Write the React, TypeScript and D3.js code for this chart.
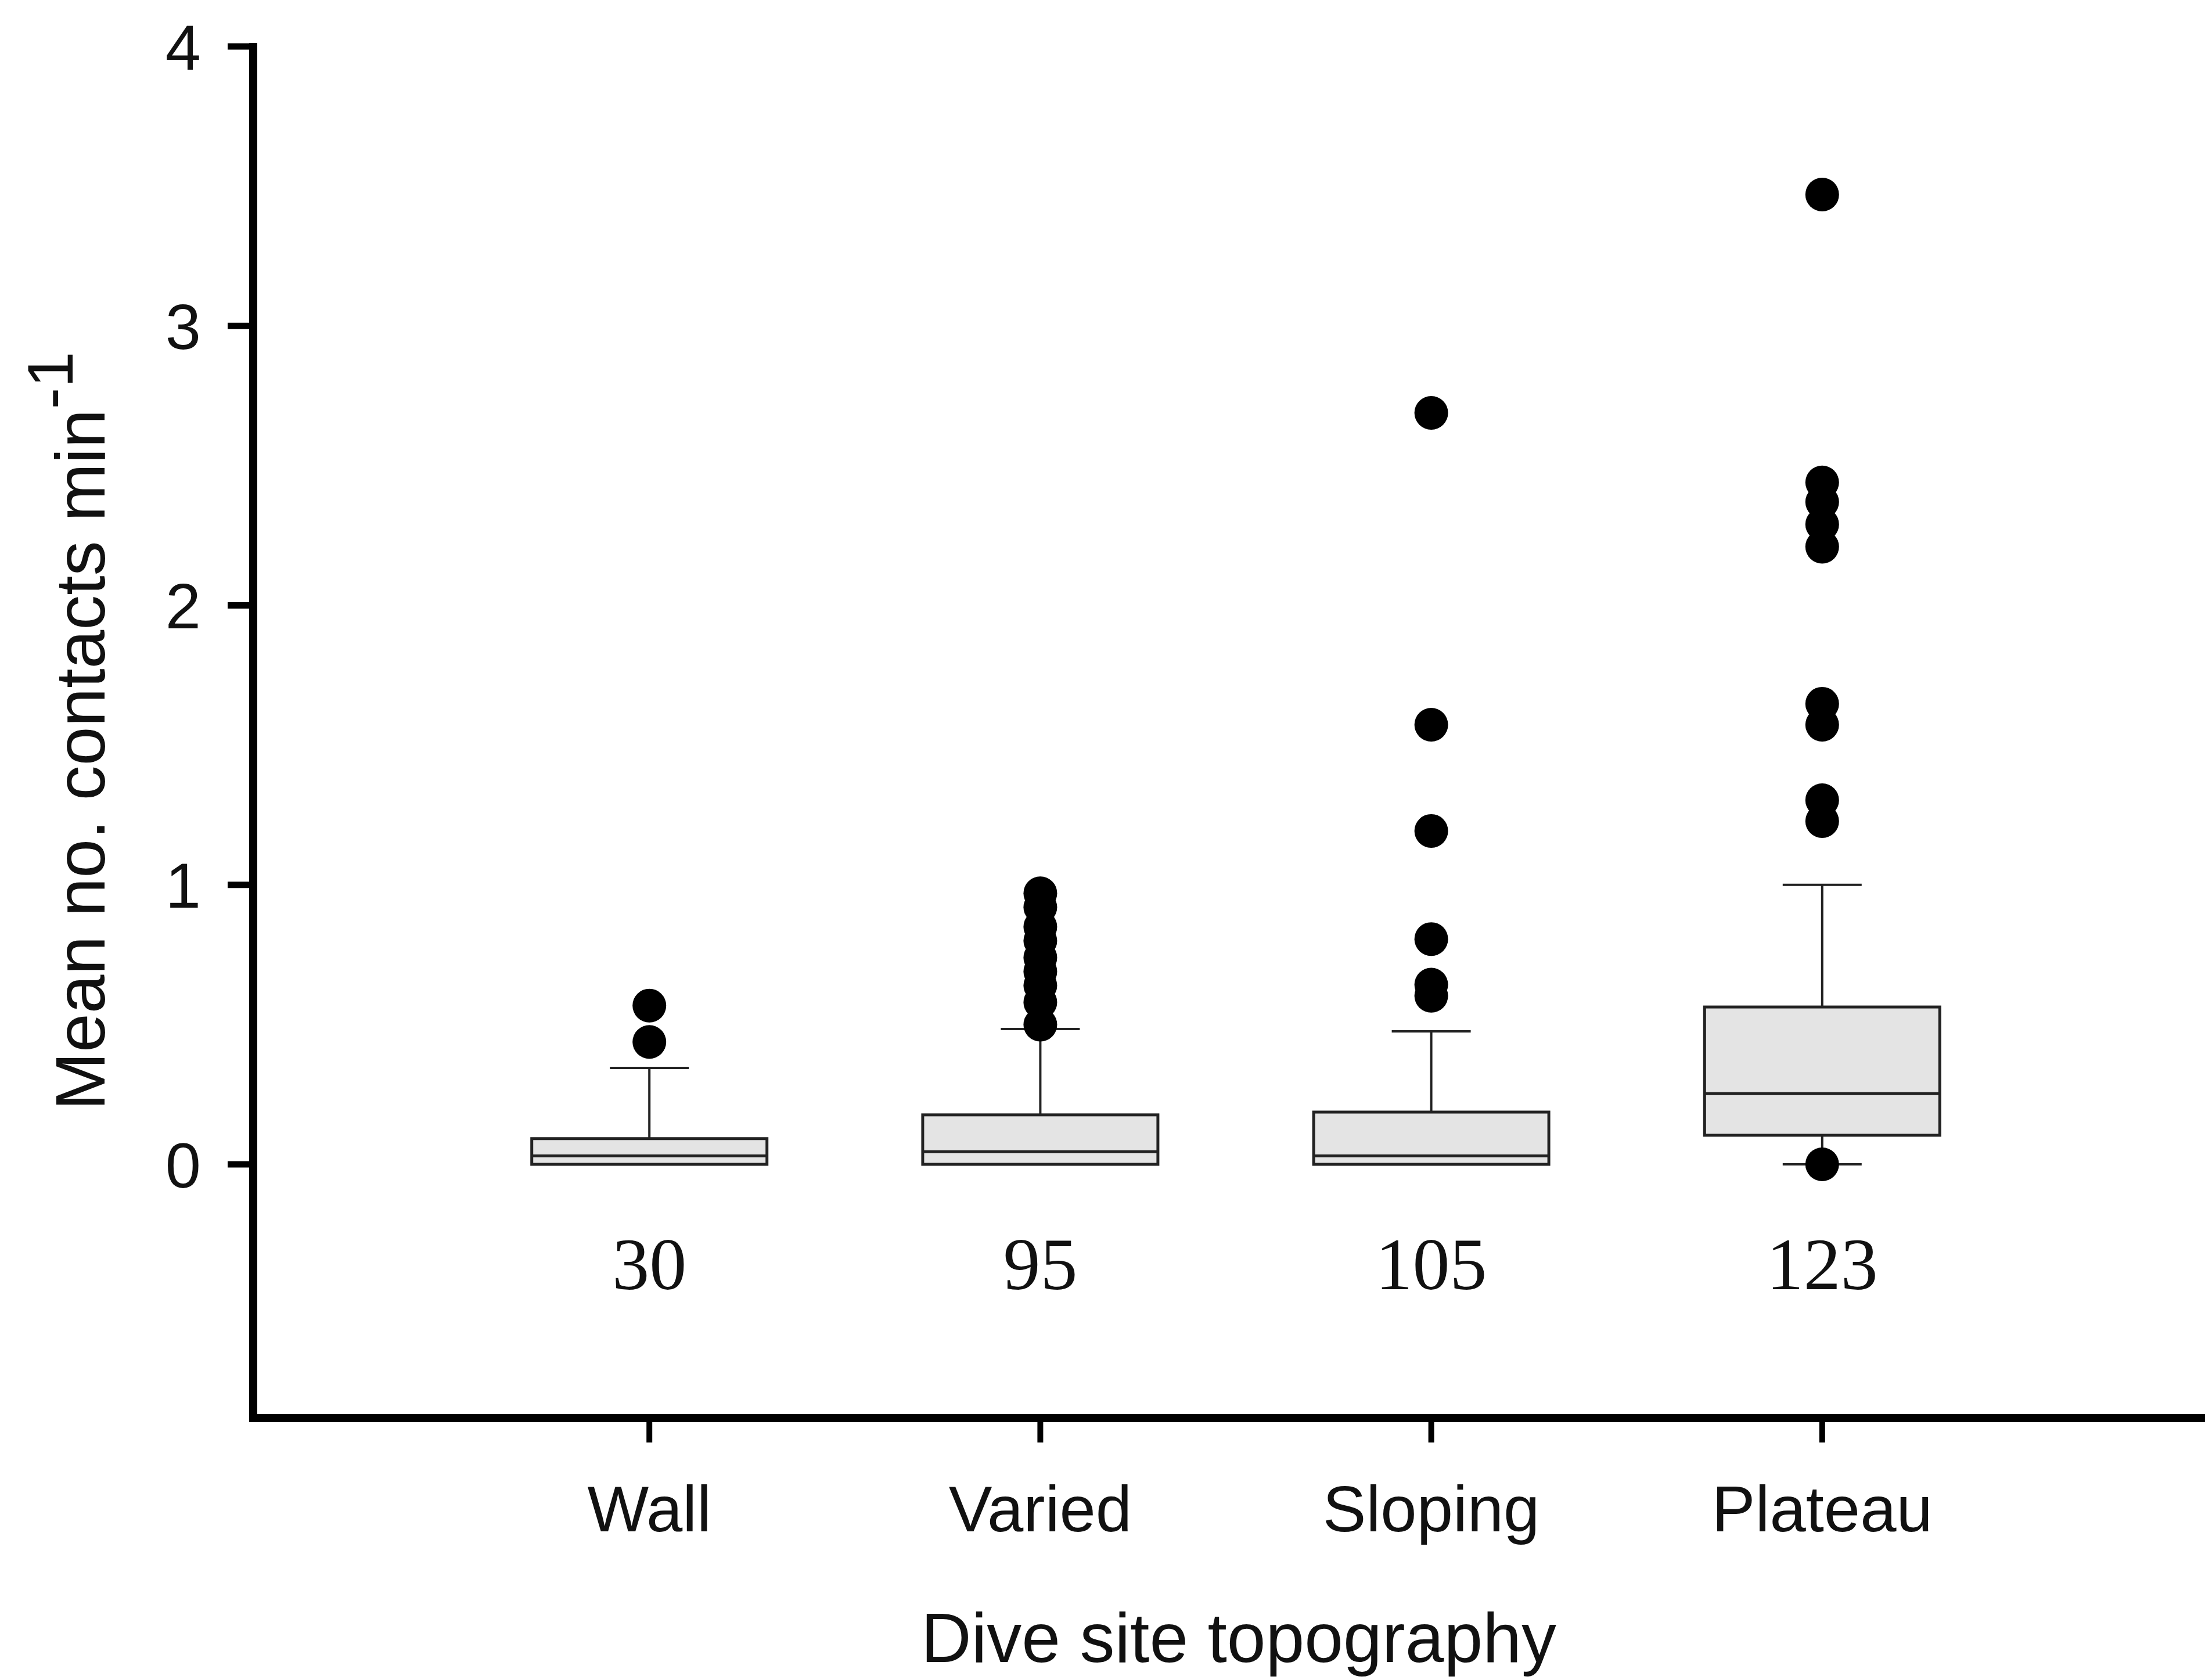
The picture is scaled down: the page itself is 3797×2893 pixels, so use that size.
import React from "react";
import * as d3 from "d3";

const categories = ["Wall", "Varied", "Sloping", "Plateau"];
const sampleSizes = ["30", "95", "105", "123"];
const q1 = [0, 0, 0, 0.104];
const medians = [0.03, 0.045, 0.03, 0.253];
const q3 = [0.092, 0.177, 0.187, 0.563];
const whiskerLow = [0, 0, 0, 0];
const whiskerHigh = [0.345, 0.484, 0.476, 1.0];
const outliersWall = [0.568, 0.438];
const outliersVaried = [0.97, 0.92, 0.85, 0.8, 0.74, 0.69, 0.64, 0.58, 0.5];
const outliersSloping = [2.689, 1.573, 1.193, 0.806, 0.643, 0.603];
const outliersPlateau = [3.47, 2.44, 2.37, 2.29, 2.21, 1.648, 1.573, 1.303, 1.228, 0];
const outliers = [outliersWall, outliersVaried, outliersSloping, outliersPlateau];
const yTicks = [0, 1, 2, 3, 4];

const W = 3797;
const H = 2893;
const axisX = 436;
const axisY = 2442;

export default function App() {
  const x = d3.scalePoint<string>().domain(categories).range([445, 3811]).padding(1);
  const y = d3.scaleLinear().domain([-0.908, 4]).range([axisY, 80]);
  const boxW = 405;
  const capW = 136;
  const sans = "'Liberation Sans', Arial, Helvetica, sans-serif";
  const serif = "'Liberation Serif', 'Times New Roman', serif";

  return (
    <svg
      width={W}
      height={H}
      viewBox={`0 0 ${W} ${H}`}
      style={{ position: "absolute", left: 0, top: 0, display: "block", background: "#fff" }}
    >
      <rect x={0} y={0} width={W} height={H} fill="#fff" />
      {/* boxes */}
      {categories.map((c, i) => {
        const cx = x(c) as number;
        return (
          <g key={c}>
            <line x1={cx} x2={cx} y1={y(q3[i])} y2={y(whiskerHigh[i])} stroke="#222" strokeWidth={4} />
            <line x1={cx - capW / 2} x2={cx + capW / 2} y1={y(whiskerHigh[i])} y2={y(whiskerHigh[i])} stroke="#222" strokeWidth={4} />
            {whiskerLow[i] < q1[i] && (
              <g>
                <line x1={cx} x2={cx} y1={y(q1[i])} y2={y(whiskerLow[i])} stroke="#222" strokeWidth={4} />
                <line x1={cx - capW / 2} x2={cx + capW / 2} y1={y(whiskerLow[i])} y2={y(whiskerLow[i])} stroke="#222" strokeWidth={4} />
              </g>
            )}
            <rect
              x={cx - boxW / 2}
              y={y(q3[i])}
              width={boxW}
              height={y(q1[i]) - y(q3[i])}
              fill="#e4e4e4"
              stroke="#222"
              strokeWidth={5}
            />
            <line x1={cx - boxW / 2} x2={cx + boxW / 2} y1={y(medians[i])} y2={y(medians[i])} stroke="#222" strokeWidth={5} />
            {outliers[i].map((v, j) => (
              <circle key={j} cx={cx} cy={y(v)} r={29} fill="#000" />
            ))}
            <text x={cx} y={2220} textAnchor="middle" fontFamily={serif} fontSize={128} fill="#111">
              {sampleSizes[i]}
            </text>
          </g>
        );
      })}

      {/* y axis */}
      <line x1={axisX} x2={axisX} y1={y(4) - 6} y2={axisY + 7} stroke="#000" strokeWidth={14} />
      {yTicks.map((t) => (
        <g key={t}>
          <line x1={axisX - 44} x2={axisX} y1={y(t)} y2={y(t)} stroke="#000" strokeWidth={11} />
          <text
            x={346}
            y={y(t)}
            dy="0.36em"
            textAnchor="end"
            fontFamily={sans}
            fontSize={110}
            fill="#111"
          >
            {t}
          </text>
        </g>
      ))}
      <text transform={`translate(180, 1912) rotate(-90)`} fontFamily={sans} fontSize={120} fill="#111">
        Mean no. contacts min
        <tspan dy={-55} fontSize={112}>-1</tspan>
      </text>

      {/* x axis */}
      <line x1={axisX - 7} x2={W + 20} y1={axisY} y2={axisY} stroke="#000" strokeWidth={14} />
      {categories.map((c) => (
        <g key={c}>
          <line x1={x(c) as number} x2={x(c) as number} y1={axisY} y2={axisY + 42} stroke="#000" strokeWidth={10} />
          <text x={x(c) as number} y={2637} textAnchor="middle" fontFamily={sans} fontSize={112} fill="#111">
            {c}
          </text>
        </g>
      ))}
      <text x={2133} y={2862} textAnchor="middle" fontFamily={sans} fontSize={120} fill="#111">
        Dive site topography
      </text>
    </svg>
  );
}
